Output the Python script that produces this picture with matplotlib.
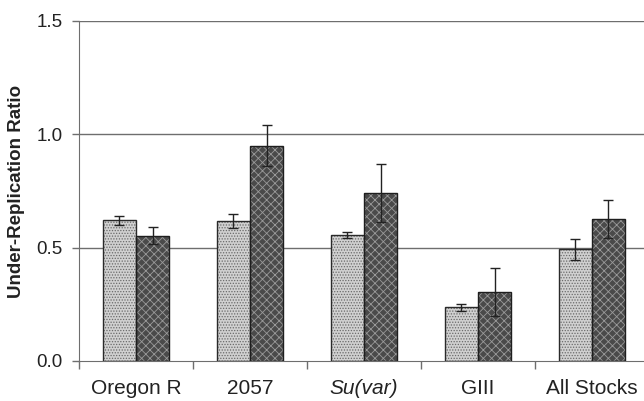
import numpy as np
import matplotlib.pyplot as plt

plt.rcParams['font.family'] = ['Liberation Sans', 'DejaVu Sans']
plt.rcParams['hatch.linewidth'] = 0.6

# data
stocks = ["Oregon R", "2057", "Su(var)", "GIII", "All Stocks"]
light_vals = [0.621, 0.617, 0.556, 0.236, 0.493]
light_err = [0.020, 0.030, 0.013, 0.016, 0.046]
dark_vals = [0.552, 0.950, 0.741, 0.304, 0.626]
dark_err = [0.038, 0.091, 0.127, 0.106, 0.083]

fig = plt.figure(figsize=(6.44, 4.01), dpi=100)
ax = fig.add_axes([0.1227, 0.0998, 0.885, 0.8479])

x = np.arange(len(stocks))
w = 0.29

#grid lines behind bars
for g in [0.5, 1.0, 1.5]:
    ax.axhline(g, color='#6e6e6e', lw=1.0, zorder=0)

#light bars (fine dotted)
ax.bar(x - w/2, light_vals, w, color='#d0d0d0', hatch='......',
       edgecolor='#6a6a6a', lw=0, zorder=2)
ax.bar(x - w/2, light_vals, w, fill=False, edgecolor='#2a2a2a', lw=1.0, zorder=3)
#dark bars (checkered)
ax.bar(x + w/2, dark_vals, w, color='#4a4a4a', hatch='xxxx',
       edgecolor='#9a9a9a', lw=0, zorder=2)
ax.bar(x + w/2, dark_vals, w, fill=False, edgecolor='#1e1e1e', lw=1.0, zorder=3)

ax.errorbar(x - w/2, light_vals, yerr=light_err, fmt='none', ecolor='#222222',
            elinewidth=1.0, capsize=3.5, capthick=1.0, zorder=4)
ax.errorbar(x + w/2, dark_vals, yerr=dark_err, fmt='none', ecolor='#222222',
            elinewidth=1.0, capsize=3.5, capthick=1.0, zorder=4)

ax.set_xlim(-0.5, len(stocks) - 0.5)
ax.set_ylim(0, 1.5)
ax.set_yticks([0.0, 0.5, 1.0, 1.5])
ax.set_yticklabels(["0.0", "0.5", "1.0", "1.5"])
ax.set_xticks(np.arange(len(stocks) + 1) - 0.5)
ax.set_xticklabels([])
ax.set_xticks(x, minor=True)
ax.set_xticklabels(stocks, minor=True)
for lab in ax.get_xticklabels(minor=True):
    if lab.get_text() == "Su(var)":
        lab.set_style('italic')

ax.tick_params(axis='y', length=5, width=1, color='#6e6e6e', labelsize=13.5,
               pad=7, labelcolor='#222222')
ax.tick_params(axis='x', which='major', length=6, width=1, color='#6e6e6e')
ax.tick_params(axis='x', which='minor', length=0, labelsize=15, pad=13,
               labelcolor='#222222')

for s in ['top', 'right']:
    ax.spines[s].set_visible(False)
ax.spines['left'].set_color('#6e6e6e')
ax.spines['bottom'].set_color('#6e6e6e')

ax.set_ylabel("Under-Replication Ratio", fontsize=13.5, fontweight='bold',
              color='#222222', labelpad=8)

fig.savefig("out.png", dpi=100)
